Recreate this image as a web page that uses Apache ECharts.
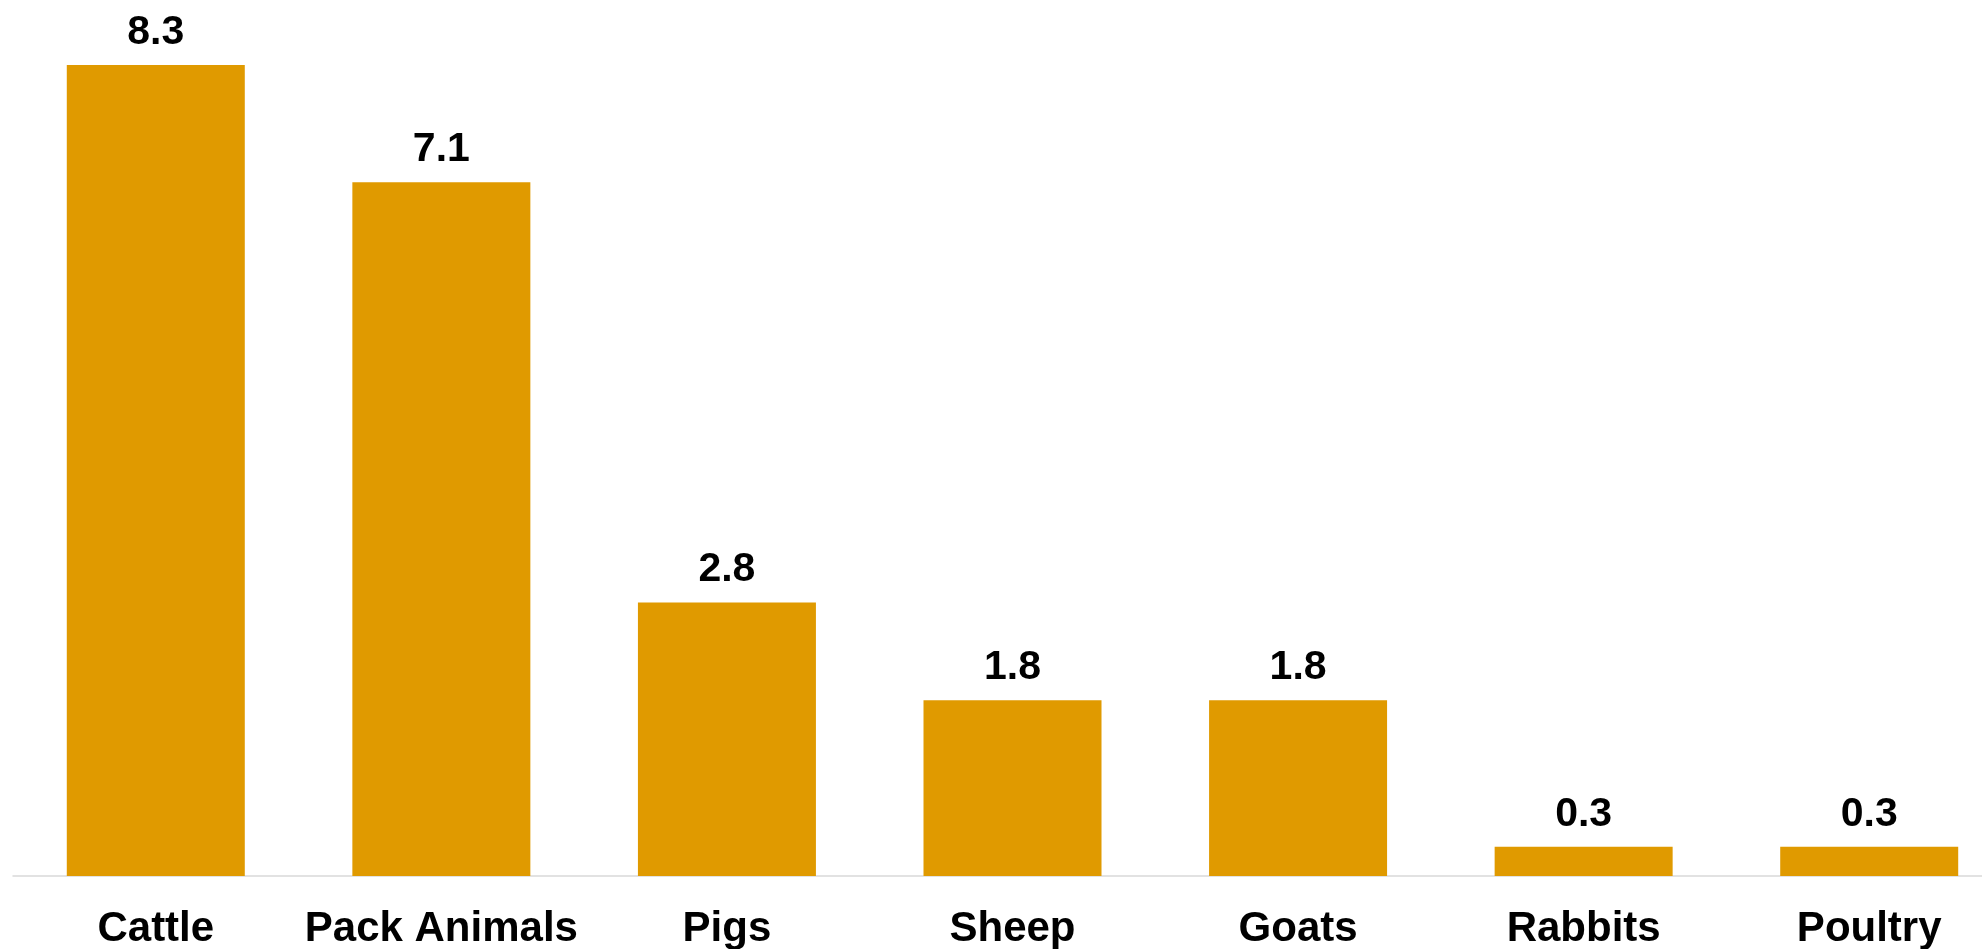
<!DOCTYPE html>
<html>
<head>
<meta charset="utf-8">
<script src="https://cdn.jsdelivr.net/npm/echarts@6/dist/echarts.min.js"></script>
<style>
html,body{margin:0;padding:0;background:#fff;}
#chart{width:1982px;height:949px;}
</style>
</head>
<body>
<div id="chart"></div>
<script>
const categories = ["Cattle", "Pack Animals", "Pigs", "Sheep", "Goats", "Rabbits", "Poultry"];
const values = [8.3, 7.1, 2.8, 1.8, 1.8, 0.3, 0.3];

const chart = echarts.init(document.getElementById('chart'), null, {renderer: 'canvas'});
chart.setOption({
  animation: false,
  backgroundColor: '#ffffff',
  grid: {left: 13, right: -30, top: 45.5, bottom: 73, containLabel: false, outerBoundsMode: 'none'},
  xAxis: {
    type: 'category',
    data: categories,
    axisLine: {show: true, lineStyle: {color: '#d9d9d9', width: 1.5}},
    axisTick: {show: false},
    axisLabel: {
      interval: 0,
      margin: 32,
      color: '#000000',
      fontFamily: 'Liberation Sans, Arial, sans-serif',
      fontWeight: 'bold',
      fontSize: 42
    }
  },
  yAxis: {
    type: 'value',
    min: 0,
    max: 8.5,
    show: false,
    splitLine: {show: false}
  },
  series: [{
    type: 'bar',
    data: values,
    barWidth: 178,
    itemStyle: {color: '#E09A00'},
    label: {
      show: true,
      position: 'top',
      distance: 12,
      color: '#000000',
      fontFamily: 'Liberation Sans, Arial, sans-serif',
      fontWeight: 'bold',
      fontSize: 41,
      formatter: p => p.value.toFixed(1)
    }
  }]
});
</script>
</body>
</html>
